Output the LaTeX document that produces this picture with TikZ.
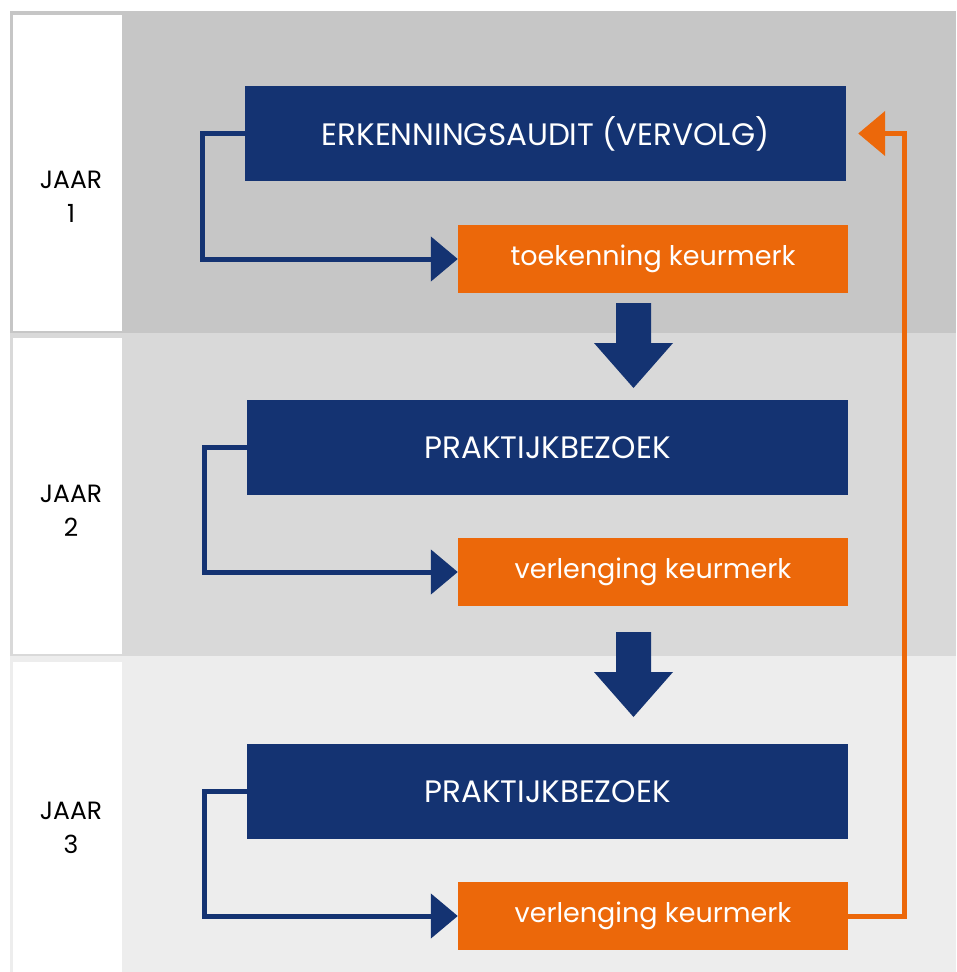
\documentclass[tikz,border=0pt]{standalone}
\usepackage{fontspec}
\setmainfont{Poppins}
\usetikzlibrary{arrows.meta,positioning}
\definecolor{darkblue}{RGB}{20,51,114}
\definecolor{keurorange}{RGB}{236,104,10}
\definecolor{bandA}{RGB}{198,198,198}
\definecolor{bandB}{RGB}{217,217,217}
\definecolor{bandC}{RGB}{237,237,237}
\begin{document}
\begin{tikzpicture}[
    x=1pt, y=-1pt,
    every node/.style={inner sep=0pt},
    stepblue/.style={fill=darkblue, text=white,
        minimum width=601pt, minimum height=95pt,
        font=\fontsize{31}{36}\selectfont},
    steporange/.style={fill=keurorange, text=white,
        minimum width=390pt, minimum height=68pt,
        font=\fontsize{27}{32}\selectfont},
    yearlabel/.style={align=center,
        font=\fontsize{25}{34}\selectfont},
    elbow/.style={draw=darkblue, line width=5pt,
        -{Triangle[length=27pt,width=44pt]}},
    backline/.style={draw=keurorange, line width=5pt,
        -{Triangle[length=27pt,width=44pt]}}]
    \useasboundingbox (0,0) rectangle (956,972);

    % year bands
    \fill[bandA] (10,11) rectangle (956,333);
    \fill[bandB] (10,333) rectangle (956,656);
    \fill[bandC] (10,656) rectangle (956,972);
    \fill[white] (13,15) rectangle (122,331);
    \fill[white] (13,338) rectangle (122,654);
    \fill[white] (13,662) rectangle (122,972);

    \node[yearlabel] (y1) at (71,197) {JAAR\\1};
    \node[yearlabel] (y2) at (71,511) {JAAR\\2};
    \node[yearlabel] (y3) at (71,828) {JAAR\\3};

    % steps
    \node[stepblue] (b1) at (545.5,133.5) {ERKENNINGSAUDIT (VERVOLG)};
    \node[steporange] (o1) at (653,259) {toekenning keurmerk};
    \node[stepblue] (b2) at (547.5,447.5) {PRAKTIJKBEZOEK};
    \node[steporange] (o2) at (653,572) {verlenging keurmerk};
    \node[stepblue] (b3) at (547.5,791.5) {PRAKTIJKBEZOEK};
    \node[steporange] (o3) at (653,916) {verlenging keurmerk};

    % big arrows between years
    \foreach \yt in {303,632} {
        \fill[darkblue] (616,\yt) -- (651,\yt) -- (651,\yt+40) -- (673,\yt+40)
            -- (633.5,\yt+85) -- (594,\yt+40) -- (616,\yt+40) -- cycle;
    }

    % connectors
    \foreach \b/\o in {b1/o1,b2/o2,b3/o3} {
        \draw[elbow] (\b.west) -- ++(-42,0) |- (\o.west);
    }
    \draw[backline] (o3.east) -- ++(56,0) |- ([xshift=12pt]b1.east);
\end{tikzpicture}
\end{document}
